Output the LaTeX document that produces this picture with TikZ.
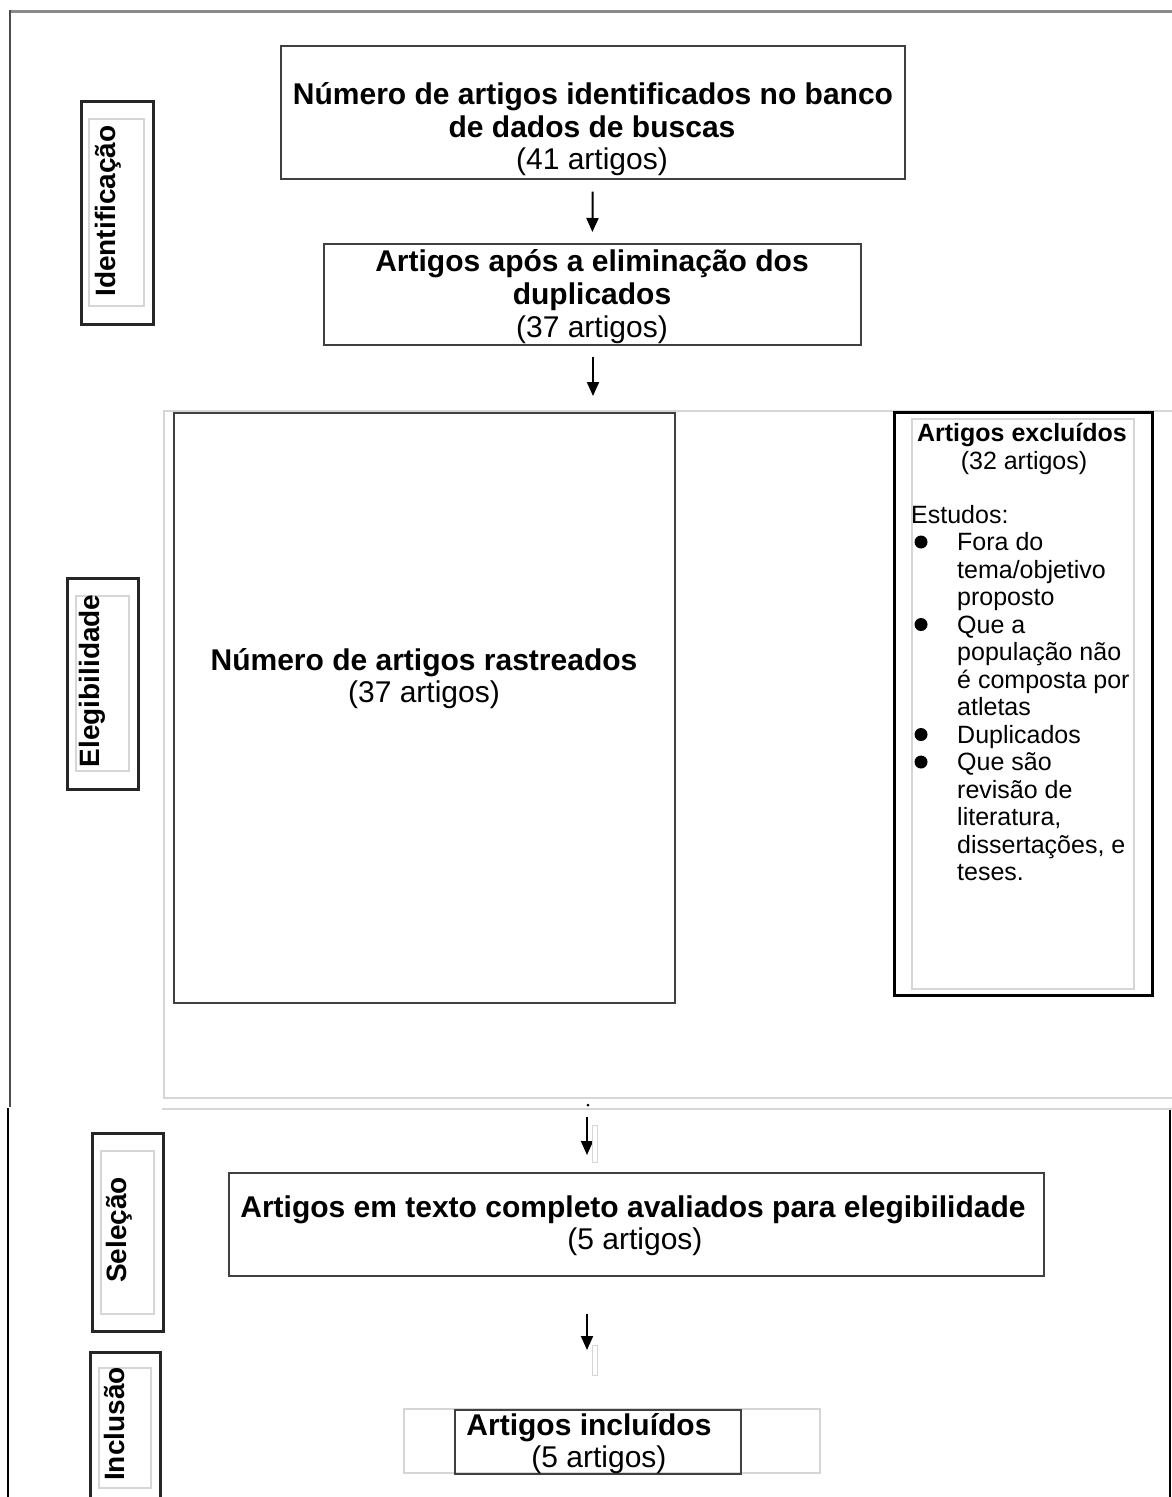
\documentclass[tikz,border=0pt]{standalone}
\usepackage{fontspec}
\setmainfont{Liberation Sans}
\usetikzlibrary{arrows.meta}
\definecolor{frameg}{HTML}{8A8A8A}
\definecolor{lightg}{HTML}{D6D6D6}
\definecolor{boxc}{HTML}{404040}
\begin{document}
\begin{tikzpicture}[x=1pt,y=-1pt,
  box/.style={draw=boxc, line width=1.6pt, inner sep=0pt, anchor=north west},
  thickbox/.style={draw=black!85, line width=2.8pt, inner sep=0pt, anchor=north west},
  graybox/.style={draw=lightg, line width=1.5pt, inner sep=0pt, anchor=north west},
  ttl/.style={font=\fontsize{30}{33}\selectfont\bfseries, inner sep=0pt, anchor=base},
  cnt/.style={font=\fontsize{30}{33}\selectfont, inner sep=0pt, anchor=base},
  sttl/.style={font=\fontsize{25}{27.5}\selectfont\bfseries, inner sep=0pt, anchor=base},
  scnt/.style={font=\fontsize{25}{27.5}\selectfont, inner sep=0pt, anchor=base},
  sline/.style={font=\fontsize{25}{27.5}\selectfont, inner sep=0pt, anchor=base west},
  lab/.style={font=\fontsize{28}{30}\selectfont\bfseries, inner sep=0pt, rotate=90, anchor=base},
  arr/.style={line width=2pt, -{Triangle[width=12pt,length=14pt]}}
]
\fill[white] (0,0) rectangle (1172,1497);
\useasboundingbox (0,0) rectangle (1172,1497);

% page frames
\draw[frameg, line width=3pt] (10,11) -- (1172,11);
\draw[black!70, line width=2pt] (10,10) -- (10,1107);
\draw[black, line width=2pt] (8,1108) -- (8,1497);
\draw[black, line width=2pt] (1170,1109) -- (1170,1497);
\draw[lightg, line width=2pt] (162,1109) -- (1172,1109);
\draw[lightg, line width=2pt] (1172,411) -- (164,411) -- (164,1098) -- (1172,1098);

% stage labels
\node[thickbox, minimum width=72pt, minimum height=223pt] (idout) at (80,100) {};
\node[graybox, minimum width=55pt, minimum height=187pt] (idin) at (88,118) {};
\node[lab] (idt) at (115,211) {Identificação};

\node[thickbox, minimum width=71pt, minimum height=211pt] (elout) at (66,577) {};
\node[graybox, minimum width=53pt, minimum height=175pt] (elin) at (75,595) {};
\node[lab] (elt) at (99,681) {Elegibilidade};

\node[thickbox, minimum width=71pt, minimum height=198pt] (seout) at (91,1132) {};
\node[graybox, minimum width=53pt, minimum height=163pt] (sein) at (100,1150) {};
\node[lab] (set) at (126,1230) {Seleção};

\node[thickbox, minimum width=70pt, minimum height=180pt] (inout) at (89,1351) {};
\node[graybox, minimum width=52pt, minimum height=120pt] (inin) at (98,1367) {};
\node[lab] (int) at (124,1424) {Inclusão};

% main boxes
\node[box, minimum width=624pt, minimum height=133pt] (b1) at (280,45) {};
\node[ttl] (b1a) at (593,104) {Número de artigos identificados no banco};
\node[ttl] (b1b) at (592,137) {de dados de buscas};
\node[cnt] (b1c) at (592,169) {(41 artigos)};

\node[box, minimum width=537pt, minimum height=101pt] (b2) at (323,243) {};
\node[ttl] (b2a) at (592,271) {Artigos após a eliminação dos};
\node[ttl] (b2b) at (592,304) {duplicados};
\node[cnt] (b2c) at (592,337) {(37 artigos)};

\node[box, minimum width=501pt, minimum height=590pt] (b3) at (173,412) {};
\node[ttl] (b3a) at (424,670) {Número de artigos rastreados};
\node[cnt] (b3b) at (424,702) {(37 artigos)};

% excluded box
\node[thickbox, draw=black, line width=3pt, minimum width=258pt, minimum height=583pt] (exo) at (893,411) {};
\node[graybox, minimum width=222pt, minimum height=570pt] (exi) at (911,418) {};
\node[sttl] (exa) at (1022,441.5) {Artigos excluídos};
\node[scnt] (exb) at (1024,469.5) {(32 artigos)};
\node[sline] (exc) at (911,523.5) {Estudos:};
\foreach \t [count=\i from 0] in {Fora do, tema/objetivo, proposto, Que a, população não, é composta por, atletas, Duplicados, Que são, revisão de, {literatura,}, {dissertações, e}, teses.}
  \node[sline] (exl\i) at (957,550.5+27.5*\i) {\t};
\foreach \k in {0,3,7,8}
  \fill (921,542+27.5*\k) circle (6.5pt);

\node[box, minimum width=815pt, minimum height=103pt] (b4) at (228,1172) {};
\node[ttl] (b4a) at (633,1217) {Artigos em texto completo avaliados para elegibilidade};
\node[cnt] (b4b) at (635,1249) {(5 artigos)};

\node[graybox, minimum width=416pt, minimum height=64pt] (b5g) at (403,1408) {};
\node[box, minimum width=286pt, minimum height=64pt] (b5) at (454,1409) {};
\node[ttl] (b5a) at (589,1435) {Artigos incluídos};
\node[cnt] (b5b) at (599,1467) {(5 artigos)};

% connectors
\coordinate (a2e) at (593,396);
\coordinate (a3s) at (587,1117);
\coordinate (a4e) at (587,1350);
\draw[arr, shorten <=12pt, shorten >=11pt] (b1.south) -- (b2.north);
\draw[arr, shorten <=11pt] (b2.south -| a2e) -- (a2e);
\draw[arr, shorten >=17pt] (a3s) -- (a3s |- b4.north);
\draw[arr, shorten <=37pt] (b4.south -| a4e) -- (a4e);
\fill (588,1105) circle (1.5pt);
\draw[lightg, line width=1pt] (592,1125) rectangle (597,1162);
\draw[lightg, line width=1pt] (592,1345) rectangle (597,1375);
\end{tikzpicture}
\end{document}
